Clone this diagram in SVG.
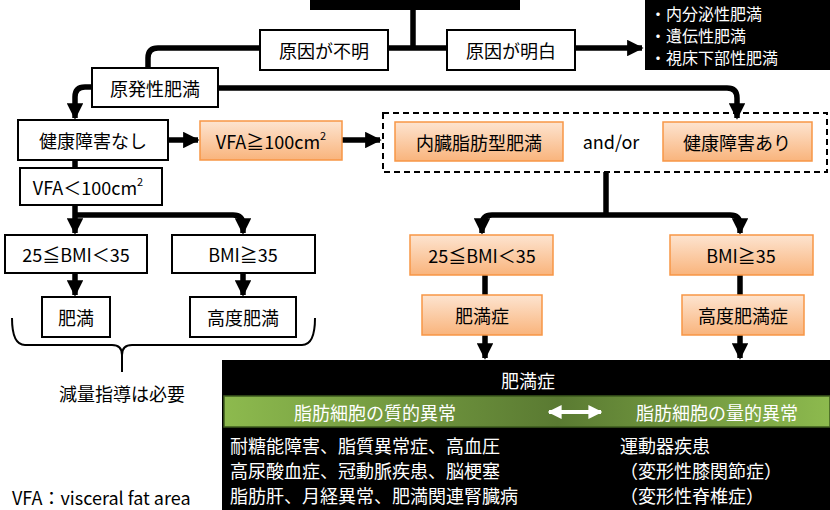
<svg xmlns="http://www.w3.org/2000/svg" width="830" height="510" viewBox="0 0 830 510">
<defs>
<linearGradient id="og" x1="0" y1="0" x2="0" y2="1"><stop offset="0" stop-color="#fde4d0"/><stop offset="1" stop-color="#f9b47c"/></linearGradient>
<linearGradient id="gg" x1="0" y1="0" x2="1" y2="0"><stop offset="0" stop-color="#8dba4e"/><stop offset="0.55" stop-color="#5a7a32"/><stop offset="1" stop-color="#8dba4e"/></linearGradient>
<marker id="ah" viewBox="0 0 10 10" refX="9" refY="5" markerWidth="3" markerHeight="3" orient="auto"><path d="M0,0L10,5L0,10z" fill="#000"/></marker>
<marker id="wh" viewBox="0 0 10 10" refX="9" refY="5" markerWidth="3.5" markerHeight="3.5" orient="auto-start-reverse"><path d="M0,0L10,5L0,10z" fill="#fff"/></marker>
<style>
text{font-family:"Noto Sans CJK JP","Liberation Sans",sans-serif;font-size:18px;text-anchor:middle;dominant-baseline:central;fill:#000}
.w{fill:#fff;stroke:#000;stroke-width:2}
.o{fill:url(#og);stroke:#f79646;stroke-width:1.5}
.c{fill:none;stroke:#000;stroke-width:5.5;stroke-linejoin:round}
.a{marker-end:url(#ah)}
.wt{fill:#fff}
.l{text-anchor:start}
.s{font-size:16px}
</style>
</defs>
<g id="connectors">
<path class="c" d="M413,10V48M388,48H447"/>
<path class="c a" d="M575,48H642"/>
<path class="c a" d="M260,48H158Q148,48 148,58V90"/>
<path class="c a" d="M92,87H85Q75,87 75,97V118"/>
<path class="c a" d="M218,88H727Q737,88 737,98V118"/>
<path class="c a" d="M168,140H198"/>
<path class="c a" d="M342,140H380"/>
<path class="c" d="M75,160V168"/>
<path class="c a" d="M75,205V233"/>
<path class="c a" d="M75,215H233Q243,215 243,225V233"/>
<path class="c a" d="M75,273V295"/>
<path class="c a" d="M243,273V295"/>
<path class="c" d="M606,172V215"/>
<path class="c a" d="M606,215H492Q482,215 482,225V233"/>
<path class="c a" d="M606,215H730Q740,215 740,225V233"/>
<path class="c" d="M485,275V295M740,275V295"/>
<path class="c a" d="M485,335V358"/>
<path class="c a" d="M740,335V358"/>
<path d="M12,318Q12,345 25,345H112Q122,345 122,355V372M122,355Q122,345 132,345H302Q315,345 315,318" fill="none" stroke="#000" stroke-width="2"/>
</g>
<g id="top"><rect x="310" y="-2" width="210" height="12" fill="#000"/></g>
<g id="unknown"><rect class="w" x="260" y="30" width="128" height="40"/><text x="324" y="50">原因が不明</text></g>
<g id="known"><rect class="w" x="447" y="30" width="128" height="40"/><text x="511" y="50">原因が明白</text></g>
<g id="secondary"><rect x="645" y="-2" width="185" height="72" fill="#000"/>
<text class="wt l s" x="650" y="13">・内分泌性肥満</text><text class="wt l s" x="650" y="35">・遺伝性肥満</text><text class="wt l s" x="650" y="57">・視床下部性肥満</text></g>
<g id="primary"><rect class="w" x="92" y="68" width="126" height="39"/><text x="155" y="88">原発性肥満</text></g>
<g id="nohealth"><rect class="w" x="18" y="120" width="150" height="40"/><text x="93" y="140">健康障害なし</text></g>
<g id="vfahigh"><rect class="o" x="200" y="121" width="142" height="39"/><text x="271" y="141">VFA≧100cm<tspan font-size="11" dy="-6">2</tspan></text></g>
<g id="group"><rect x="383" y="113" width="444" height="59" fill="none" stroke="#000" stroke-width="2" stroke-dasharray="6,4"/>
<rect class="o" x="395" y="122" width="168" height="39"/><text x="479" y="142">内臓脂肪型肥満</text>
<text x="611" y="141" font-family="Liberation Sans,sans-serif">and/or</text>
<rect class="o" x="663" y="122" width="149" height="39"/><text x="737" y="142">健康障害あり</text></g>
<g id="vfalow"><rect class="w" x="20" y="168" width="142" height="37"/><text x="88" y="187">VFA＜100cm<tspan font-size="11" dy="-6">2</tspan></text></g>
<g id="bmi1"><rect class="w" x="5" y="235" width="142" height="38"/><text x="76" y="254">25≦BMI＜35</text></g>
<g id="bmi2"><rect class="w" x="172" y="235" width="143" height="38"/><text x="243" y="254">BMI≧35</text></g>
<g id="himan"><rect class="w" x="42" y="297" width="68" height="40"/><text x="76" y="317">肥満</text></g>
<g id="kodo"><rect class="w" x="190" y="297" width="106" height="40"/><text x="243" y="317">高度肥満</text></g>
<text x="122" y="393">減量指導は必要</text>
<g id="bmi3"><rect class="o" x="410" y="235" width="143" height="40"/><text x="482" y="255">25≦BMI＜35</text></g>
<g id="bmi4"><rect class="o" x="670" y="235" width="143" height="40"/><text x="741" y="255">BMI≧35</text></g>
<g id="sho"><rect class="o" x="422" y="295" width="120" height="40"/><text x="482" y="315">肥満症</text></g>
<g id="kodosho"><rect class="o" x="682" y="295" width="122" height="40"/><text x="743" y="315">高度肥満症</text></g>
<g id="disease"><rect x="222" y="360" width="610" height="152" fill="#000"/>
<text class="wt" x="528" y="380">肥満症</text>
<rect x="224" y="396" width="606" height="31" fill="url(#gg)" stroke="#3d5a1e" stroke-width="1.5"/>
<text class="wt" x="375" y="412">脂肪細胞の質的異常</text><text class="wt" x="717" y="412">脂肪細胞の量的異常</text>
<path d="M549,412H601" stroke="#fff" stroke-width="4" marker-start="url(#wh)" marker-end="url(#wh)"/>
<text class="wt l" x="230" y="445">耐糖能障害、脂質異常症、高血圧</text>
<text class="wt l" x="230" y="470">高尿酸血症、冠動脈疾患、脳梗塞</text>
<text class="wt l" x="230" y="495">脂肪肝、月経異常、肥満関連腎臓病</text>
<text class="wt l" x="620" y="445">運動器疾患</text>
<text class="wt l" x="620" y="470">（変形性膝関節症）</text>
<text class="wt l" x="620" y="495">（変形性脊椎症）</text></g>
<text class="l" x="12" y="497" font-size="15" font-family="Liberation Sans,sans-serif">VFA：visceral fat area</text>
</svg>
